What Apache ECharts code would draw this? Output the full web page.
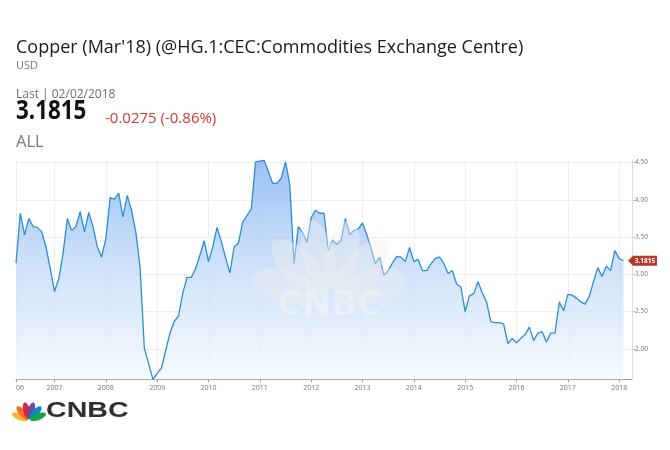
<!DOCTYPE html>
<html><head><meta charset="utf-8">
<script src="https://cdn.jsdelivr.net/npm/echarts@6/dist/echarts.min.js"></script>
<style>html,body{margin:0;padding:0;background:#fff}#c{width:670px;height:450px}</style>
</head><body><div id="c"></div>
<script>
// Monthly copper settle values (USD/lb)
const startYear = 2006;
const startMonth = 4; // data begins April 2006
const v2006 = [3.15, 3.82, 3.53, 3.75, 3.64, 3.63, 3.57, 3.37, 3.08];
const v2007 = [2.77, 2.94, 3.28, 3.75, 3.59, 3.64, 3.84, 3.57, 3.83, 3.64, 3.37, 3.23];
const v2008 = [3.48, 4.03, 4.01, 4.09, 3.77, 4.06, 3.86, 3.57, 3.10, 2.01, 1.80, 1.59];
const v2009 = [1.67, 1.74, 1.98, 2.21, 2.37, 2.44, 2.75, 2.96, 2.96, 3.08, 3.26, 3.45];
const v2010 = [3.17, 3.37, 3.63, 3.44, 3.22, 3.02, 3.37, 3.42, 3.70, 3.79, 3.88, 4.51];
const v2011 = [4.52, 4.53, 4.38, 4.22, 4.22, 4.29, 4.51, 4.21, 3.15, 3.64, 3.56, 3.43];
const v2012 = [3.76, 3.86, 3.82, 3.82, 3.32, 3.46, 3.40, 3.46, 3.75, 3.53, 3.59, 3.61];
const v2013 = [3.69, 3.53, 3.35, 3.14, 3.23, 2.99, 3.05, 3.15, 3.24, 3.23, 3.17, 3.36];
const v2014 = [3.17, 3.20, 3.05, 3.05, 3.14, 3.21, 3.23, 3.15, 3.01, 3.05, 2.87, 2.83];
const v2015 = [2.50, 2.71, 2.74, 2.90, 2.75, 2.63, 2.36, 2.35, 2.35, 2.33, 2.07, 2.14];
const v2016 = [2.08, 2.14, 2.19, 2.29, 2.11, 2.21, 2.23, 2.09, 2.21, 2.21, 2.63, 2.51];
const v2017 = [2.73, 2.72, 2.68, 2.63, 2.60, 2.70, 2.90, 3.09, 2.97, 3.11, 3.05, 3.32];
const v2018 = [3.21, 3.1815];
const yearValues = [v2006, v2007, v2008, v2009, v2010, v2011, v2012, v2013, v2014, v2015, v2016, v2017, v2018];
const padCategories = ['2018-03', '2018-04']; // empty months to the right of the last value
const yMin = 1.5, yMax = 4.535, yStep = 0.5;
const dataFloor = 1.59;
const lastValue = 3.1815;
const lastLabel = '3.1815';

const categories = [];
const values = [];
yearValues.forEach(function (arr, k) {
  arr.forEach(function (v, j) {
    const m = (k === 0 ? startMonth : 1) + j;
    categories.push((startYear + k) + '-' + String(m).padStart(2, '0'));
    values.push(v);
  });
});
padCategories.forEach(function (c) { categories.push(c); values.push(null); });
const lastIndex = values.length - padCategories.length - 1;
const isYearTick = function (idx) { return idx === 0 || categories[idx].slice(5) === '01'; };

const chart = echarts.init(document.getElementById('c'), null, { renderer: 'canvas' });
const FONT = '"Open Sans", "DejaVu Sans", sans-serif';

const option = {
  animation: false,
  backgroundColor: '#ffffff',
  grid: { left: 16, right: 38, top: 160, height: 226 },
  xAxis: {
    type: 'category',
    data: categories,
    boundaryGap: false,
    offset: -7,
    axisLine: { lineStyle: { color: '#9a9a9a', width: 1 } },
    axisTick: { show: true, interval: isYearTick, length: 3, lineStyle: { color: '#9a9a9a' } },
    axisLabel: {
      interval: isYearTick,
      formatter: function (val, idx) { return idx === 0 ? '06' : val.slice(0, 4); },
      fontSize: 7, color: '#777', margin: 5, fontFamily: FONT,
      alignMinLabel: 'left'
    },
    splitLine: { show: true, interval: isYearTick, lineStyle: { color: '#eeeeee', width: 1 } }
  },
  yAxis: {
    type: 'value',
    position: 'right',
    min: yMin, max: yMax, interval: yStep,
    axisLine: { show: false },
    axisTick: { show: true, length: 3, lineStyle: { color: '#bbbbbb' } },
    axisLabel: {
      fontSize: 6.5, color: '#777', margin: 3, fontFamily: FONT,
      showMinLabel: false, showMaxLabel: false,
      formatter: function (v) { return v.toFixed(2); }
    },
    splitLine: { show: true, showMinLine: false, showMaxLine: false, lineStyle: { color: '#eeeeee', width: 1 } }
  },
  series: [{
    type: 'line',
    data: values,
    symbol: 'none',
    connectNulls: false,
    lineStyle: { color: '#2a8fd2', width: 1.3 },
    areaStyle: {
      origin: dataFloor,
      color: new echarts.graphic.LinearGradient(0, 0, 0, 1, [
        { offset: 0, color: '#72a8f2' },
        { offset: 0.45, color: '#b6d2f7' },
        { offset: 1, color: '#f5f9fe' }
      ])
    },
    z: 2
  }]
};
chart.setOption(option);

// header texts, logo, watermark, last-value tag
const pTop = chart.convertToPixel({ xAxisIndex: 0, yAxisIndex: 0 }, [values.length - 1, yMax]);
const pBot = chart.convertToPixel({ xAxisIndex: 0, yAxisIndex: 0 }, [values.length - 1, dataFloor]);
const pLast = chart.convertToPixel({ xAxisIndex: 0, yAxisIndex: 0 }, [lastIndex, lastValue]);
const axX = pTop[0];

const elements = [];
function txt(x, y, text, font, fill, extra) {
  const o = { type: 'text', x: x, y: y, silent: true, style: Object.assign({ text: text, font: font, fill: fill, textVerticalAlign: 'middle' }, extra || {}) };
  elements.push(o);
  return o;
}
txt(16, 48, "Copper (Mar'18) (@HG.1:CEC:Commodities Exchange Centre)", '18px ' + FONT, '#1b1b1b');
txt(16, 66, 'USD', '11px ' + FONT, '#7a7a7a');
txt(16, 95, 'Last | 02/02/2018', '12px ' + FONT, '#6f6f6f');
const big = txt(16, 112, lastLabel, 'bold 26px ' + FONT, '#111111');
big.scaleX = 0.86;
txt(105, 119, '-0.0275 (-0.86%)', '15px ' + FONT, '#cf3b2e');
txt(16, 142, 'ALL', '16.5px ' + FONT, '#7a7a7a');

// right axis line
elements.push({ type: 'line', silent: true, shape: { x1: axX + 0.5, y1: pTop[1], x2: axX + 0.5, y2: pBot[1] }, style: { stroke: '#dddddd', lineWidth: 1 }, z: 5 });

// last value tag
const ty = pLast[1];
const tx0 = axX - 4;
elements.push({ type: 'polygon', silent: true, z: 10, shape: { points: [[tx0, ty], [tx0 + 5, ty - 5], [tx0 + 29, ty - 5], [tx0 + 29, ty + 5], [tx0 + 5, ty + 5]] }, style: { fill: '#b53a2b' } });
const tagTxt = txt(tx0 + 17, ty, lastLabel, 'bold 6.5px ' + FONT, '#ffffff', { textAlign: 'center' });
tagTxt.z = 11;

// watermark
const wmCx = 330, wmCy = 298;
const wmAngles = [-75, -45, -15, 15, 45, 75];
wmAngles.forEach(function (a) {
  const r = a * Math.PI / 180;
  elements.push({ type: 'ellipse', silent: true, z: 3, x: wmCx + 44 * Math.sin(r), y: wmCy - 44 * Math.cos(r), rotation: -r,
    shape: { cx: 0, cy: 0, rx: 16, ry: 36 }, style: { fill: 'rgba(238,238,238,0.42)' } });
});
const wmTxt = txt(330, 306, 'CNBC', 'bold 34px "DejaVu Sans", sans-serif', 'rgba(255,255,255,0.3)', { textAlign: 'center', stroke: 'rgba(228,228,228,0.35)', lineWidth: 1 });
wmTxt.z = 3;

// CNBC logo
const logoCols = ['#fcb131', '#f37021', '#d8214f', '#6a4c9c', '#0a89d0', '#19a24a'];
const lbx = 29, lby = 420;
[-70, -42, -14, 14, 42, 70].forEach(function (a, k) {
  const r = a * Math.PI / 180;
  elements.push({ type: 'ellipse', silent: true, x: lbx + 9.5 * Math.sin(r), y: lby - 9.5 * Math.cos(r), rotation: -r,
    shape: { cx: 0, cy: 0, rx: 3.4, ry: 8.5 }, style: { fill: logoCols[k] } });
});
const logoTxt = txt(46, 411, 'CNBC', 'bold 22px "Liberation Sans", Arial, sans-serif', '#2f2f2f');
logoTxt.scaleX = 1.3;

chart.setOption({ graphic: { elements: elements } });
</script>
</body></html>
